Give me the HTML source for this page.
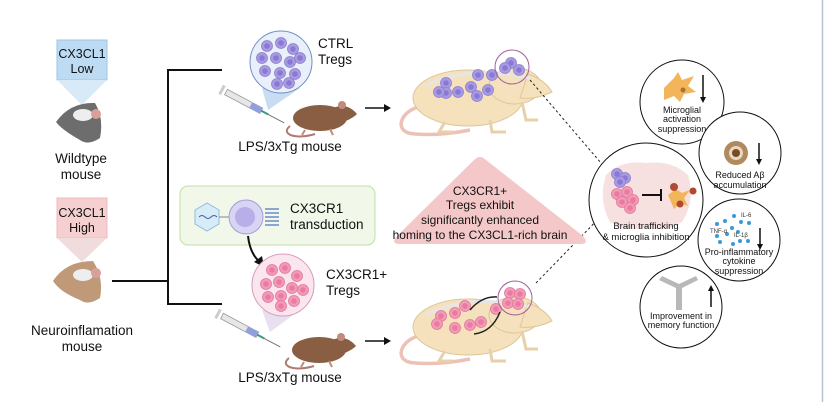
<!DOCTYPE html>
<html><head><meta charset="utf-8"><style>
html,body{margin:0;padding:0;background:#fff;}
svg{display:block;font-family:"Liberation Sans",sans-serif;}
</style></head><body>
<svg width="824" height="402" viewBox="0 0 824 402" xmlns="http://www.w3.org/2000/svg">
<defs>
<g id="pc"><circle r="5.5" fill="#a99be0" stroke="#8d7fd0" stroke-width="0.8"/><circle r="2.8" fill="#8a78d6"/></g>
<g id="kc"><circle r="5.5" fill="#f29bb8" stroke="#e0789c" stroke-width="0.8"/><circle r="2.8" fill="#ea7ba0"/></g>
<g id="bm">
 <path d="M22 48 C0 52,-8 75,15 76 Q40 78 70 72" fill="none" stroke="#ecc2b6" stroke-width="3.5"/>
 <ellipse cx="68" cy="40" rx="55" ry="28" fill="#f5e2bc" stroke="#dcc69a" stroke-width="1"/>
 <ellipse cx="115" cy="28" rx="26" ry="18" fill="#f5e2bc" stroke="#dcc69a" stroke-width="1"/>
 <path d="M128 16 Q145 22 152 34 Q135 42 120 40Z" fill="#f5e2bc" stroke="#dcc69a" stroke-width="1"/>
 <path d="M45 64 l-6 10 h14 M90 62 l2 12 h14 M122 44 l4 18 h12" fill="none" stroke="#e8d0aa" stroke-width="3"/>
 <path d="M25 28 Q70 6 130 20" fill="none" stroke="#e6e6e6" stroke-width="3"/>
</g>
<g id="mouse">
 <path d="M5 30 C-5 38,10 44,30 38" fill="none" stroke="#b07a72" stroke-width="2"/>
 <ellipse cx="35" cy="22" rx="27" ry="13" fill="#8a5e42"/>
 <path d="M48 12 Q62 6 72 18 Q66 24 52 28Z" fill="#8a5e42"/>
 <circle cx="57" cy="9" r="4" fill="#c28b7e"/>
 <path d="M20 34 l-3 5 M45 33 l3 6" stroke="#c28b7e" stroke-width="2"/>
</g>
<g id="syr">
 <rect x="0" y="-3" width="40" height="6" fill="#e6e6e6" stroke="#999" stroke-width="0.8"/>
 <rect x="-6" y="-5" width="3" height="10" fill="#ccc"/>
 <rect x="28" y="-3" width="12" height="6" fill="#8fa0e0"/>
 <line x1="40" y1="0" x2="66" y2="0" stroke="#777" stroke-width="1"/>
 <line x1="40" y1="0" x2="48" y2="0" stroke="#3a9a80" stroke-width="2"/>
</g>
</defs>

<line x1="822.5" y1="0" x2="822.5" y2="402" stroke="#b8c2d6" stroke-width="1.5"/>

<!-- left column -->
<rect x="57" y="40" width="50" height="40" fill="#bddcf4" stroke="#9cc4e8"/>
<polygon points="57,80 107,80 82,105" fill="#d8eaf8"/>
<text x="82" y="58" font-size="12.5" text-anchor="middle" fill="#111">CX3CL1</text>
<text x="82" y="73" font-size="12.5" text-anchor="middle" fill="#111">Low</text>
<path d="M56 122 Q70 102 95 103 Q104 118 100 138 Q88 146 80 140 Q62 130 56 122Z" fill="#6d6d6d"/>
<ellipse cx="83" cy="115" rx="10" ry="6" fill="#eee"/><circle cx="96" cy="114" r="5" fill="#d9a09a"/>
<text x="81" y="163" font-size="13.5" text-anchor="middle" fill="#111">Wildtype</text>
<text x="81" y="179" font-size="13.5" text-anchor="middle" fill="#111">mouse</text>

<rect x="57" y="198" width="50" height="40" fill="#f6d0d0" stroke="#f0b8bc"/>
<polygon points="57,238 107,238 82,262" fill="#f0dcdc"/>
<text x="82" y="217" font-size="12.5" text-anchor="middle" fill="#111">CX3CL1</text>
<text x="82" y="232" font-size="12.5" text-anchor="middle" fill="#111">High</text>
<path d="M53 281 Q66 261 93 261 Q104 278 100 298 Q88 306 80 300 Q60 292 53 281Z" fill="#c09a78"/>
<ellipse cx="83" cy="275" rx="10" ry="6" fill="#eee"/><circle cx="96" cy="273" r="5" fill="#d9a09a"/>
<text x="82" y="335" font-size="13.5" text-anchor="middle" fill="#111">Neuroinflamation</text>
<text x="82" y="351" font-size="13.5" text-anchor="middle" fill="#111">mouse</text>

<!-- bracket -->
<path d="M112 281 H168 M222 70 H168 V304 H222" fill="none" stroke="#111" stroke-width="2"/>

<!-- CTRL Tregs -->
<polygon points="262,88 300,88 268,110" fill="#c8dcf2"/>
<circle cx="281" cy="62" r="31" fill="#eaf0fb" stroke="#6f8fc0" stroke-width="1"/>
<use href="#pc" x="267" y="46"/><use href="#pc" x="281" y="43"/><use href="#pc" x="293" y="49"/>
<use href="#pc" x="262" y="58"/><use href="#pc" x="276" y="58"/><use href="#pc" x="290" y="62"/><use href="#pc" x="300" y="58"/>
<use href="#pc" x="265" y="71"/><use href="#pc" x="280" y="73"/><use href="#pc" x="295" y="74"/><use href="#pc" x="277" y="84"/><use href="#pc" x="289" y="83"/>
<text x="318" y="48" font-size="13.5" fill="#111">CTRL</text>
<text x="318" y="64" font-size="13.5" fill="#111">Tregs</text>
<use href="#syr" transform="translate(226,92) rotate(28)"/>
<use href="#mouse" transform="translate(285,96)"/>
<text x="290" y="151" font-size="13.5" text-anchor="middle" fill="#111">LPS/3xTg mouse</text>
<path d="M365 108 H384" stroke="#111" stroke-width="1.6"/><polygon points="384,104 391,108 384,112" fill="#111"/>

<!-- top big mouse -->
<use href="#bm" transform="translate(400,58)"/>
<use href="#pc" x="446" y="83"/><use href="#pc" x="478" y="75"/><use href="#pc" x="492" y="75"/><use href="#pc" x="446" y="93"/>
<use href="#pc" x="458" y="92"/><use href="#pc" x="471" y="87"/><use href="#pc" x="488" y="90"/><use href="#pc" x="477" y="96"/><use href="#pc" x="439" y="92"/>
<circle cx="512" cy="67" r="17" fill="none" stroke="#a0609a" stroke-width="1"/>
<use href="#pc" x="511" y="63"/><use href="#pc" x="505" y="68"/><use href="#pc" x="519" y="70"/>
<path d="M530 80 L607 170" stroke="#222" stroke-width="1" stroke-dasharray="2.5,2.5"/>

<!-- transduction box -->
<rect x="180" y="186" width="195" height="59" rx="8" fill="#f1f8ea" stroke="#bfe0a8"/>
<polygon points="207,203 219,210 219,224 207,231 195,224 195,210" fill="#d8ecf8" stroke="#8bbde0"/>
<path d="M199 217 q3 -3 6 0 t6 0 t6 0" fill="none" stroke="#4060b0" stroke-width="1"/>
<line x1="219" y1="217" x2="229" y2="217" stroke="#888"/>
<circle cx="246" cy="217" r="17" fill="#d8d4f4" stroke="#a69ad8"/>
<circle cx="245" cy="217" r="10" fill="#b8aee8"/>
<g stroke="#4a6fc0" stroke-width="1.2"><line x1="265" y1="209" x2="279" y2="209"/><line x1="265" y1="213" x2="279" y2="213"/><line x1="265" y1="217" x2="279" y2="217"/><line x1="265" y1="221" x2="279" y2="221"/><line x1="265" y1="225" x2="279" y2="225"/></g>
<text x="290" y="213" font-size="13.5" fill="#111">CX3CR1</text>
<text x="290" y="229" font-size="13.5" fill="#111">transduction</text>
<path d="M248 236 Q250 254 260 262" fill="none" stroke="#111" stroke-width="2"/>
<polygon points="254,262 264,267 262,256" fill="#111"/>

<!-- CX3CR1+ Tregs -->
<polygon points="262,310 300,310 270,332" fill="#e8e0f0"/>
<circle cx="283" cy="285" r="31" fill="#fbe6ef" stroke="#d49ab8" stroke-width="1"/>
<use href="#kc" x="272" y="270"/><use href="#kc" x="285" y="268"/><use href="#kc" x="297" y="276"/>
<use href="#kc" x="266" y="284"/><use href="#kc" x="279" y="282"/><use href="#kc" x="292" y="288"/><use href="#kc" x="303" y="290"/>
<use href="#kc" x="268" y="297"/><use href="#kc" x="281" y="296"/><use href="#kc" x="294" y="301"/><use href="#kc" x="281" y="306"/>
<text x="326" y="279" font-size="13.5" fill="#111">CX3CR1+</text>
<text x="326" y="295" font-size="13.5" fill="#111">Tregs</text>
<use href="#syr" transform="translate(222,316) rotate(28)"/>
<use href="#mouse" transform="translate(284,328)"/>
<text x="290" y="382" font-size="13.5" text-anchor="middle" fill="#111">LPS/3xTg mouse</text>
<path d="M365 341 H384" stroke="#111" stroke-width="1.6"/><polygon points="384,337 391,341 384,345" fill="#111"/>

<!-- bottom big mouse -->
<use href="#bm" transform="translate(400,287)"/>
<use href="#kc" x="441" y="316"/><use href="#kc" x="455" y="313"/><use href="#kc" x="470" y="325"/><use href="#kc" x="481" y="322"/><use href="#kc" x="496" y="309"/><use href="#kc" x="465" y="306"/><use href="#kc" x="437" y="324"/><use href="#kc" x="455" y="328"/>
<circle cx="515" cy="298" r="17" fill="none" stroke="#a0609a" stroke-width="1"/>
<use href="#kc" x="510" y="293"/><use href="#kc" x="520" y="294"/><use href="#kc" x="508" y="303"/><use href="#kc" x="518" y="304"/>
<path d="M470 310 Q482 296 497 297" fill="none" stroke="#222" stroke-width="1.5"/>
<path d="M474 334 Q492 332 500 312" fill="none" stroke="#222" stroke-width="1.5"/>
<path d="M536 283 L607 210" stroke="#222" stroke-width="1" stroke-dasharray="2.5,2.5"/>

<!-- pink triangle -->
<path d="M474 160 Q480 154 486 160 L583 236 Q590 244 580 244 L400 244 Q390 244 397 236 Z" fill="#f4c8c8"/>
<text x="480" y="195" font-size="12" text-anchor="middle" fill="#111">CX3CR1+</text>
<text x="480" y="209" font-size="12" text-anchor="middle" fill="#111">Tregs exhibit</text>
<text x="480" y="224" font-size="12" text-anchor="middle" fill="#111">significantly enhanced</text>
<text x="480" y="239" font-size="12" text-anchor="middle" fill="#111">homing to the CX3CL1-rich brain</text>

<!-- brain circle -->
<circle cx="646" cy="200" r="57" fill="#fff" stroke="#111" stroke-width="1"/>
<path d="M606 175 Q620 160 646 163 Q672 160 688 175 Q696 200 682 222 Q665 232 646 228 Q627 232 610 222 Q598 200 606 175Z" fill="#f6e0e0"/>
<use href="#pc" x="617" y="174"/><use href="#pc" x="625" y="178"/><use href="#pc" x="620" y="182"/>
<use href="#kc" x="617" y="194"/><use href="#kc" x="627" y="192"/><use href="#kc" x="622" y="202"/><use href="#kc" x="633" y="200"/><use href="#kc" x="630" y="208"/>
<path d="M642 195 H661 M661 189 V201" stroke="#111" stroke-width="2"/>
<path d="M668 195 l8 -6 l6 4 l8 -3 l-6 8 l4 8 l-8 -3 l-6 6 z" fill="#f2b55a"/>
<circle cx="674" cy="187" r="4" fill="#b04a30"/><circle cx="693" cy="191" r="3.5" fill="#b04a30"/><circle cx="680" cy="204" r="3.5" fill="#b04a30"/>
<text x="646" y="229" font-size="9.5" text-anchor="middle" fill="#111">Brain trafficking</text>
<text x="646" y="240" font-size="9.5" text-anchor="middle" fill="#111">&amp; microglia inhibition</text>

<!-- outcome circles -->
<circle cx="682" cy="102" r="42" fill="#fff" stroke="#111" stroke-width="1"/>
<path d="M664 88 l10 -10 l4 -6 l4 8 l12 -4 l-6 10 l8 6 l-12 2 l-4 8 l-6 -6 l-10 4 z" fill="#f2b55a"/>
<circle cx="683" cy="90" r="2.5" fill="#b07030"/>
<path d="M703 75 V100" stroke="#111" stroke-width="1.5"/><polygon points="700,97 703,103 706,97" fill="#111"/>
<text x="682" y="113" font-size="9" text-anchor="middle" fill="#111">Microglial</text>
<text x="682" y="122" font-size="9" text-anchor="middle" fill="#111">activation</text>
<text x="682" y="132" font-size="9" text-anchor="middle" fill="#111">suppression</text>

<circle cx="740" cy="153" r="41" fill="#fff" stroke="#111" stroke-width="1"/>
<circle cx="736" cy="153" r="12" fill="#b08a5e"/><circle cx="736" cy="153" r="7" fill="#e8d8c0"/><circle cx="736" cy="153" r="4" fill="#7a4a20"/>
<path d="M759 143 V161" stroke="#111" stroke-width="1.5"/><polygon points="756,159 759,165 762,159" fill="#111"/>
<text x="740" y="178" font-size="9" text-anchor="middle" fill="#111">Reduced Aβ</text>
<text x="740" y="188" font-size="9" text-anchor="middle" fill="#111">accumulation</text>

<circle cx="739" cy="240" r="41" fill="#fff" stroke="#111" stroke-width="1"/>
<g fill="#3a9ad8"><circle cx="734" cy="216" r="2"/><circle cx="725" cy="221" r="2"/><circle cx="741" cy="222" r="2"/><circle cx="749" cy="223" r="2"/><circle cx="717" cy="224" r="2"/><circle cx="732" cy="228" r="2"/><circle cx="738" cy="232" r="2"/><circle cx="717" cy="236" r="2"/><circle cx="727" cy="234" r="2"/><circle cx="733" cy="244" r="2"/><circle cx="740" cy="241" r="2"/><circle cx="748" cy="241" r="2"/><circle cx="720" cy="242" r="2"/></g>
<text x="741" y="217" font-size="6" fill="#333">IL-6</text>
<text x="710" y="233" font-size="6" fill="#333">TNF-α</text>
<text x="734" y="237" font-size="6" fill="#333">IL-1β</text>
<path d="M760 228 V246" stroke="#111" stroke-width="1.5"/><polygon points="757,244 760,250 763,244" fill="#111"/>
<text x="739" y="255" font-size="9" text-anchor="middle" fill="#111">Pro-inflammatory</text>
<text x="739" y="264" font-size="9" text-anchor="middle" fill="#111">cytokine</text>
<text x="739" y="274" font-size="9" text-anchor="middle" fill="#111">suppression</text>

<circle cx="681" cy="307" r="41" fill="#fff" stroke="#111" stroke-width="1"/>
<path d="M659 280 L676 288 L676 310 L682 310 L682 288 L698 280 L696 276 L679 284 L662 276Z" fill="#b8b8b8"/>
<path d="M711 289 V307" stroke="#111" stroke-width="1.5"/><polygon points="708,291 711,285 714,291" fill="#111"/>
<text x="681" y="319" font-size="9" text-anchor="middle" fill="#111">Improvement in</text>
<text x="681" y="328" font-size="9" text-anchor="middle" fill="#111">memory function</text>
</svg>
</body></html>
